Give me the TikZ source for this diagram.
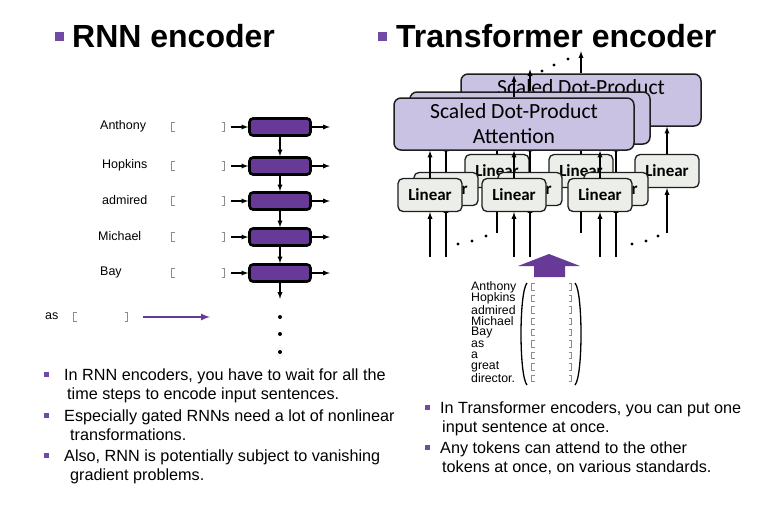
\documentclass[tikz,border=0pt]{standalone}
\usepackage{fontspec}
\setmainfont{Liberation Sans}
\newfontfamily\calibri{Carlito}
\usetikzlibrary{positioning,arrows}
\definecolor{colorrnn}    {RGB}{102,58,150}
\definecolor{colorbullet} {RGB}{112,74,164}
\definecolor{colorattn}   {RGB}{202,194,226}
\definecolor{colorlin}    {RGB}{236,238,233}
\definecolor{colorline}   {RGB}{30,30,30}
\definecolor{colorbrk}    {RGB}{140,140,140}

\begin{document}
\begin{tikzpicture}[
    x=1pt, y=-1pt,
    title/.style={font={\bfseries\fontsize{32}{36}\selectfont},inner sep=0},
    body/.style={font={\fontsize{16.2}{19.5}\selectfont},inner sep=0,align=left},
    word/.style={font={\fontsize{12.5}{14}\selectfont},inner sep=0},
    mword/.style={font={\fontsize{12.3}{12}\selectfont},inner sep=0},
    bullet/.style={fill=colorbullet,inner sep=0,minimum size=5pt},
    brk/.style={draw=colorbrk,line width=0.8pt},
    vec/.style={inner sep=0,minimum width=54pt,minimum height=10pt,
        path picture={
            \draw[brk] ([xshift=3.5pt,yshift=-.6pt]path picture bounding box.north west)
                -| ([xshift=.5pt,yshift=.6pt]path picture bounding box.south west) -- ++(3pt,0);
            \draw[brk] ([xshift=-3.5pt,yshift=-.6pt]path picture bounding box.north east)
                -| ([xshift=-.5pt,yshift=.6pt]path picture bounding box.south east) -- ++(-3pt,0);
        }},
    rnnbox/.style={draw=black,fill=colorrnn,line width=2.6pt,rounded corners=3.5pt,inner sep=0,
        minimum width=61pt,minimum height=17pt},
    attn/.style={draw=colorline,fill=colorattn,line width=1.5pt,rounded corners=7pt,inner sep=0,
        minimum width=240pt,minimum height=52pt,align=center,font={\calibri\fontsize{21.6}{25}\selectfont}},
    linbox/.style={draw=colorline,fill=colorlin,line width=1.3pt,rounded corners=5pt,inner sep=0,
        minimum width=64pt,minimum height=33pt,font={\calibri\bfseries\fontsize{17}{20}\selectfont}},
    arr/.style={-latex,line width=1.3pt},
    purparr/.style={-latex,line width=2pt,draw=colorrnn},
]
    \fill[white] (0,0) rectangle (783,507);
    \useasboundingbox (0,0) rectangle (783,507);

    % Titles
    \node[bullet,minimum size=9pt] (tb1) at (59,36) {};
    \node[title,anchor=base west] (ttl1) at (72,47) {RNN encoder};
    \node[bullet,minimum size=9pt] (tb2) at (382,36) {};
    \node[title,anchor=base west] (ttl2) at (396,47) {Transformer encoder};

    % RNN encoder
    \foreach \w/\px/\py [count=\i] in {Anthony/100/127,Hopkins/102/166,admired/102/201,Michael/98/237,Bay/100/273} {
        \node[word,anchor=west] (w\i) at (\px,\py-1) {\w};
        \node[vec] (v\i) at (198,\py) {};
        \node[rnnbox] (h\i) at (280,\py) {};
        \draw[arr] ([xshift=6pt]v\i.east) -- (h\i);
        \draw[arr] (h\i.east) -- ++(18,0);
    }
    \foreach \i [evaluate=\i as \j using int(\i+1)] in {1,...,4}
        \draw[arr] (h\i) -- (h\j);
    \draw[arr] (h5.south) -- ++(0,16);
    \foreach \py in {317,334,352}
        \fill (280,\py) circle (2pt);

    \node[word,anchor=west] (w6) at (45,316) {as};
    \node[vec,minimum width=55pt] (v6) at (100.5,317) {};
    \coordinate (asend) at (210,317);
    \draw[purparr] ([xshift=15pt]v6.east) -- (asend);

    % Transformer heads, back to front
    \foreach \dx/\dy/\h/\yin/\txt in {67/24/c/233/{Scaled Dot-Product\\\phantom{Attention}},
                                      16/6/b/257/{\phantom{Attention}},
                                      0/0/a/257/{Scaled Dot-Product\\Attention}} {
        \node[attn] (att\h) at (514+\dx,124-\dy) {\txt};
        \draw[arr] (att\h.north) -- ++(0,-22);
        \foreach \lx [count=\k] in {430,514,600} {
            \node[linbox] (lin\h\k) at (\lx+\dx,195-\dy) {Linear};
            \coordinate (in\h\k) at (\lx+\dx,\yin);
            \draw[arr] (in\h\k) -- (lin\h\k);
            \draw[arr] (lin\h\k) -- (lin\h\k |- att\h.south);
        }
    }
    \foreach \px/\py in {542/71,554/65,568/59,458/244,472/241,486/236,632/244,646/241,658/236}
        \fill (\px,\py) circle (1.6pt);

    % Input sentence
    \fill[colorrnn] (534,277) -- (534,266) -- (518,266) -- (549,254) -- (580,266)
        -- (565,266) -- (565,277) -- cycle;
    \foreach \w [count=\i] in {Anthony,Hopkins,admired,Michael,Bay,as,a,great,director.} {
        \node[mword,anchor=west] (m\i) at (471,{287+11.4*(\i-1)}) {\w};
        \node[vec,minimum width=41pt,minimum height=7.5pt] (mv\i) at (551.5,{287+11.4*(\i-1)}) {};
    }
    \draw[line width=1.3pt] (527,283) .. controls (519,292) and (519,376) .. (527,385);
    \draw[line width=1.3pt] (575,283) .. controls (583,292) and (583,376) .. (575,385);

    % Bullet texts (anchored at the baseline of their second line)
    \node[bullet] (b1) at (46,374) {};
    \node[body,anchor=base west] (t1) at (64,399.5) {In RNN encoders, you have to wait for all the\\\hspace*{3pt}time steps to encode input sentences.};
    \node[bullet] (b2) at (46,415) {};
    \node[body,anchor=base west] (t2) at (64,440.5) {Especially gated RNNs need a lot of nonlinear\\\hspace*{6pt}transformations.};
    \node[bullet] (b3) at (46,455) {};
    \node[body,anchor=base west] (t3) at (64,480.5) {Also, RNN is potentially subject to vanishing\\\hspace*{6pt}gradient problems.};
    \node[bullet] (b4) at (427,407) {};
    \node[body,anchor=base west] (t4) at (440,432.5) {In Transformer encoders, you can put one\\\hspace*{2pt}input sentence at once.};
    \node[bullet] (b5) at (427,447) {};
    \node[body,anchor=base west] (t5) at (440,472.5) {Any tokens can attend to the other\\\hspace*{2pt}tokens at once, on various standards.};

\end{tikzpicture}
\end{document}
